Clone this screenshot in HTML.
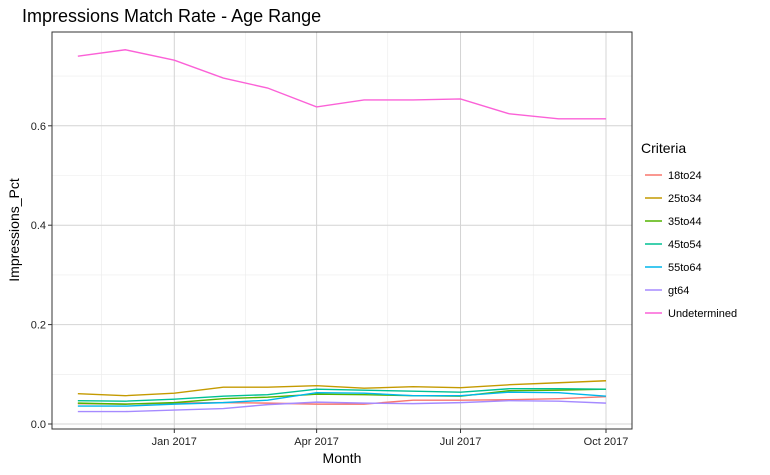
<!DOCTYPE html>
<html><head><meta charset="utf-8"><style>
body{margin:0;background:#fff;font-family:"Liberation Sans",Arial,sans-serif}
svg text{font-family:"Liberation Sans",Arial,sans-serif}
</style></head><body>
<svg id="chart" width="770" height="470" xmlns="http://www.w3.org/2000/svg">
<text x="22" y="22" font-size="18" fill="#000">Impressions Match Rate - Age Range</text>
<g id="grid"></g><g id="series"></g><g id="axes"></g><g id="legend"></g>
</svg>
<script>
const months=["2016-11-01","2016-12-01","2017-01-01","2017-02-01","2017-03-01","2017-04-01","2017-05-01","2017-06-01","2017-07-01","2017-08-01","2017-09-01","2017-10-01"];
const seriesNames=["18to24","25to34","35to44","45to54","55to64","gt64","Undetermined"];
const v18to24=[0.041,0.040,0.042,0.043,0.042,0.040,0.040,0.048,0.048,0.049,0.051,0.055];
const v25to34=[0.061,0.057,0.062,0.074,0.074,0.077,0.072,0.075,0.073,0.079,0.083,0.087];
const v35to44=[0.042,0.040,0.043,0.051,0.054,0.060,0.059,0.057,0.056,0.067,0.068,0.070];
const v45to54=[0.047,0.046,0.050,0.056,0.059,0.070,0.068,0.066,0.064,0.071,0.071,0.070];
const v55to64=[0.036,0.036,0.040,0.043,0.048,0.063,0.062,0.057,0.057,0.064,0.063,0.056];
const vgt64=[0.025,0.025,0.028,0.031,0.039,0.044,0.042,0.041,0.043,0.047,0.046,0.042];
const vUndetermined=[0.740,0.753,0.732,0.696,0.676,0.638,0.652,0.652,0.654,0.624,0.614,0.614];
const yTicks=[0,0.2,0.4,0.6];
const yTickLabels=["0.0","0.2","0.4","0.6"];
const yMinor=[0.1,0.3,0.5,0.7];
const xTicks=["2017-01-01","2017-04-01","2017-07-01","2017-10-01"];
const xTickLabels=["Jan 2017","Apr 2017","Jul 2017","Oct 2017"];
const xMinor=["2016-11-16","2017-02-15","2017-05-16","2017-08-16"];
const colors=["#F8766D","#C49A00","#53B400","#00C094","#00B6EB","#A58AFF","#FB61D7"];
const allSeries=[v18to24,v25to34,v35to44,v45to54,v55to64,vgt64,vUndetermined];

const L=52,R=632,T=32,B=429;
const t0=Date.parse("2017-01-01"),t1=Date.parse("2017-10-01");
function xs(d){return 174.3+(Date.parse(d)-t0)/(t1-t0)*(606-174.3);}
function ys(v){return 424-v*497;}
const NS="http://www.w3.org/2000/svg";
function mk(tag,attrs,parent){const e=document.createElementNS(NS,tag);for(const k in attrs)e.setAttribute(k,attrs[k]);parent.appendChild(e);return e;}
const grid=document.getElementById('grid'),ser=document.getElementById('series'),axes=document.getElementById('axes'),leg=document.getElementById('legend');
yMinor.forEach(v=>{const l=mk('line',{x1:L,x2:R,y1:ys(v),y2:ys(v),stroke:'#ebebeb','stroke-width':0.6},grid);

});
xMinor.forEach(d=>{const l=mk('line',{x1:xs(d),x2:xs(d),y1:T,y2:B,stroke:'#ebebeb','stroke-width':0.6},grid);

});
yTicks.forEach((v,i)=>{const l=mk('line',{x1:L,x2:R,y1:ys(v),y2:ys(v),stroke:'#d4d4d4','stroke-width':1},grid);


mk('line',{x1:L-4,x2:L,y1:ys(v),y2:ys(v),stroke:'#333'},axes);
const t=mk('text',{x:L-6,y:ys(v)+4,'text-anchor':'end','font-size':11,fill:'#222'},axes);t.textContent=yTickLabels[i];

});
xTicks.forEach((d,i)=>{const l=mk('line',{x1:xs(d),x2:xs(d),y1:T,y2:B,stroke:'#d4d4d4','stroke-width':1},grid);


mk('line',{x1:xs(d),x2:xs(d),y1:B,y2:B+4,stroke:'#333'},axes);
const t=mk('text',{x:xs(d),y:B+16,'text-anchor':'middle','font-size':11,fill:'#222'},axes);t.textContent=xTickLabels[i];

});
allSeries.forEach((s,si)=>{const p=mk('polyline',{points:s.map((v,i)=>xs(months[i])+','+ys(v)).join(' '),fill:'none',stroke:colors[si],'stroke-width':1.4},ser);

});
const border=mk('rect',{x:L,y:T,width:R-L,height:B-T,fill:'none',stroke:'#333','stroke-width':1},axes);


const yt=mk('text',{x:0,y:0,transform:'translate(19,230) rotate(-90)','text-anchor':'middle','font-size':14,fill:'#000'},axes);yt.textContent='Impressions_Pct';


const xt=mk('text',{x:342,y:463,'text-anchor':'middle','font-size':14,fill:'#000'},axes);xt.textContent='Month';


const lt=mk('text',{x:641,y:153,'font-size':14,fill:'#000'},leg);lt.textContent='Criteria';


seriesNames.forEach((n,i)=>{const y=175+i*23;
const g=mk('g',{},leg);


mk('line',{x1:645,x2:662,y1:y,y2:y,stroke:colors[i],'stroke-width':1.4},g);
const t=mk('text',{x:668,y:y+4,'font-size':11,fill:'#000'},g);t.textContent=n;});
</script>
</body></html>
